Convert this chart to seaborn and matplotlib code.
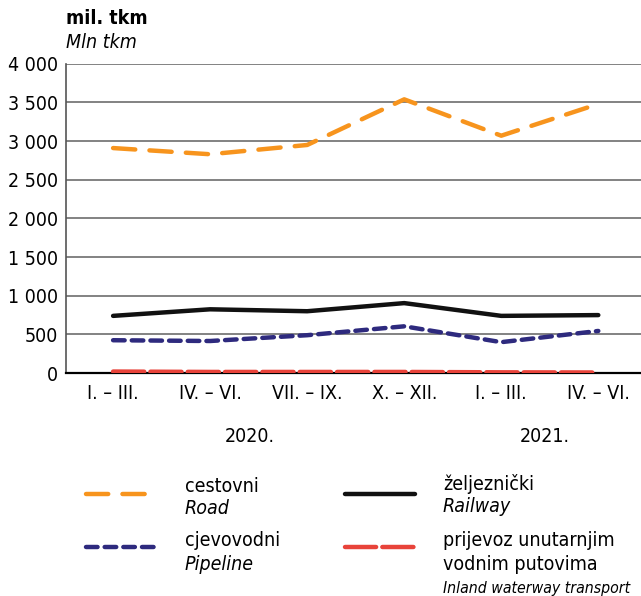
import pandas as pd
import seaborn as sns
import matplotlib.pyplot as plt
from matplotlib.lines import Line2D

quarters = ["I. – III.", "IV. – VI.", "VII. – IX.", "X. – XII.", "I. – III.", "IV. – VI."]
years = ["2020.", "2021."]
road = [2910, 2830, 2950, 3540, 3070, 3480]
railway = [740, 825, 800, 905, 740, 750]
pipeline = [425, 415, 490, 605, 400, 545]
waterway = [20, 15, 15, 15, 10, 8]

sns.set_style("white")
plt.rcParams['font.family'] = ['Liberation Sans Narrow', 'DejaVu Sans']
plt.rcParams['font.stretch'] = 'condensed'
plt.rcParams['text.color'] = 'black'
plt.rcParams['xtick.color'] = 'black'
plt.rcParams['ytick.color'] = 'black'

fig = plt.figure(figsize=(6.41, 5.96), dpi=100)
ax = fig.add_axes([0.103, 0.374, 0.897, 0.519])

pos = list(range(len(quarters)))
dat = pd.DataFrame({"pos": pos, "road": road, "railway": railway,
                    "pipeline": pipeline, "waterway": waterway})

sns.lineplot(data=dat, x="pos", y="waterway", ax=ax, color="#E8433A", lw=3.2, zorder=3)
ax.lines[-1].set_dashes((7, 1.4))
ax.lines[-1].set_dash_capstyle("round")
sns.lineplot(data=dat, x="pos", y="pipeline", ax=ax, color="#2E2A7E", lw=3.2, zorder=3)
ax.lines[-1].set_dashes((2.6, 1.6))
ax.lines[-1].set_dash_capstyle("round")
sns.lineplot(data=dat, x="pos", y="railway", ax=ax, color="#111111", lw=3.2, zorder=3)
ax.lines[-1].set_solid_capstyle("round")
sns.lineplot(data=dat, x="pos", y="road", ax=ax, color="#F7941D", lw=3.2, zorder=3)
ax.lines[-1].set_dashes((5, 3.2))
ax.lines[-1].set_dash_capstyle("round")

ax.set_xlim(-0.485, 5.44)
ax.set_ylim(0, 4000)
ax.set_yticks(range(0, 4001, 500))
ax.set_yticklabels([f"{v:,}".replace(",", " ") for v in range(0, 4001, 500)], fontsize=14)
ax.set_xticks(pos)
ax.set_xticklabels(quarters, fontsize=14)
ax.tick_params(axis="both", length=0)
ax.tick_params(axis="y", pad=6)
ax.tick_params(axis="x", pad=8)
ax.set_xlabel("")
ax.set_ylabel("")
ax.grid(axis="y", color="#6d6d6d", lw=1.2)
ax.set_axisbelow(True)
for s in ["top", "right"]:
    ax.spines[s].set_visible(False)
ax.spines["left"].set_color("#555555")
ax.spines["left"].set_linewidth(1.2)
ax.spines["bottom"].set_color("black")
ax.spines["bottom"].set_linewidth(1.6)

# units and years
fig.text(66 / 641, 1 - 18 / 596, "mil. tkm", fontsize=14, fontweight="bold", va="center")
fig.text(66 / 641, 1 - 43 / 596, "Mln tkm", fontsize=14, style="italic", va="center")
fig.text(250 / 641, 1 - 437 / 596, years[0], fontsize=14, ha="center", va="center")
fig.text(545 / 641, 1 - 437 / 596, years[1], fontsize=14, ha="center", va="center")

# legend
def key(x0, x1, y, color, dashes=None):
    ln = Line2D([x0 / 641, x1 / 641], [1 - y / 596, 1 - y / 596], color=color, lw=3.2,
                transform=fig.transFigure, solid_capstyle="round", dash_capstyle="round")
    if dashes:
        ln.set_dashes(dashes)
    fig.add_artist(ln)

key(86, 155, 494, "#F7941D", (5, 3.2))
key(86, 155, 547, "#2E2A7E", (2.6, 1.6))
key(345, 415, 494, "#111111")
key(345, 415, 547, "#E8433A", (7, 1.4))

def txt(x, y, s, size=14, **kw):
    fig.text(x / 641, 1 - y / 596, s, fontsize=size, va="center", **kw)

txt(185, 486, "cestovni")
txt(185, 509, "Road", style="italic")
txt(185, 541, "cjevovodni")
txt(185, 564, "Pipeline", style="italic")
txt(443, 484, "željeznički")
txt(443, 507, "Railway", style="italic")
txt(443, 540, "prijevoz unutarnjim")
txt(443, 564, "vodnim putovima")
txt(443, 588, "Inland waterway transport", size=11.3, style="italic")

fig.savefig("out.png", dpi=100)
